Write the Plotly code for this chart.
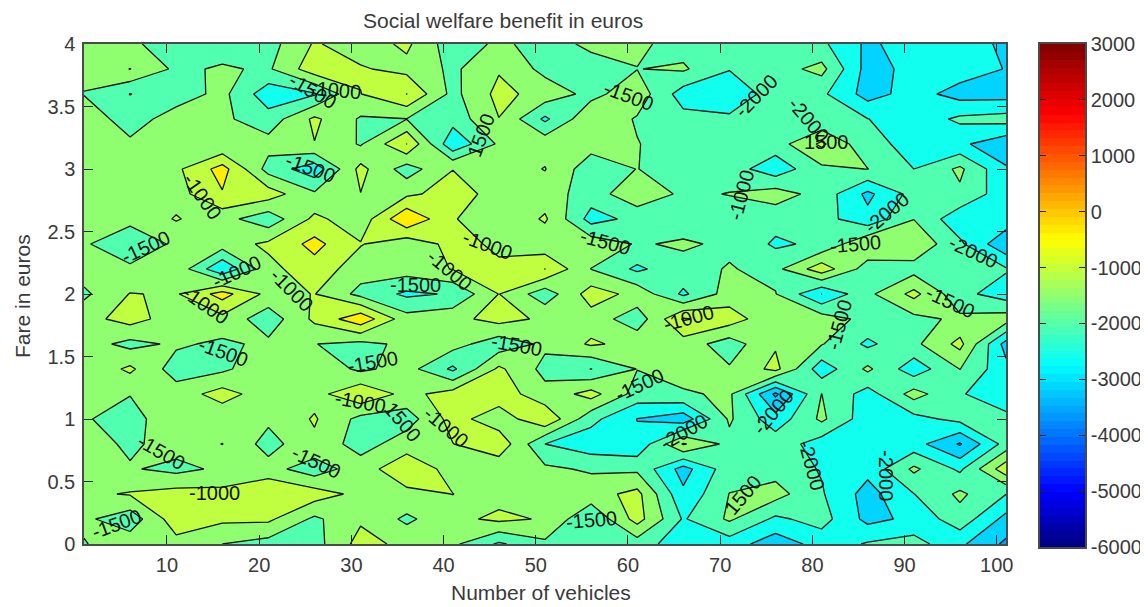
import plotly.graph_objects as go

vehicles = [1, 6, 11, 16, 21, 26, 31, 36, 41, 46, 51, 56, 61, 66, 71, 76, 81, 86, 91, 96, 101]
fares = [0, 0.2, 0.4, 0.6, 0.8, 1.0, 1.2, 1.4, 1.6, 1.8, 2.0, 2.2, 2.4, 2.6, 2.8, 3.0, 3.2, 3.4, 3.6, 3.8, 4.0]

# welfare per fare row, one value per vehicle count
fare_00 = [-1530, -1200, -1170, -1500, -1700, -1700, -800, -1150, -1400, -2080, -1600, -1800, -1750, -2300, -2250, -2800, -2300, -1950, -1787, -2400, -3100]
fare_02 = [-1400, -1800, -700, -900, -900, -1600, -1080, -1600, -1150, -880, -1050, -1950, -800, -2050, -1420, -2100, -1800, -2650, -2380, -1690, -2660]
fare_04 = [-1100, -960, -800, -850, -520, -750, -1147, -1111, -995, -1200, -1200, -1200, -850, -2400, -1490, -1300, -1950, -2700, -2010, -1400, -1990]
fare_06 = [-1250, -1450, -1650, -1400, -1300, -1800, -1200, -700, -1160, -1350, -1400, -1570, -1600, -2700, -1700, -1700, -2040, -2350, -1400, -2100, -677]
fare_08 = [-1250, -1600, -1270, -990, -1700, -1100, -1750, -1200, -1010, -650, -2000, -2300, -2400, -950, -1650, -1700, -2250, -2300, -2300, -3050, -1800]
fare_10 = [-1450, -1720, -1100, -1340, -1400, -950, -1650, -1750, -800, -1300, -570, -1850, -2510, -2800, -1430, -2300, -1400, -2300, -2170, -1850, -1850]
fare_12 = [-1250, -1480, -1250, -800, -1265, -1170, -600, -1155, -780, -700, -1338, -800, -1700, -1570, -1410, -3100, -1495, -2220, -1300, -1950, -2350]
fare_14 = [-1400, -900, -1753, -1600, -1150, -1150, -1600, -1300, -2100, -900, -1650, -2010, -1490, -1250, -1450, -850, -2300, -1400, -2300, -1490, -2350]
fare_16 = [-1275, -1650, -1420, -1600, -1390, -1490, -1640, -1395, -1300, -1800, -1400, -935, -1150, -1235, -1750, -1060, -1467, -2100, -1624, -850, -2700]
fare_18 = [-1180, -800, -1250, -1150, -1800, -890, -150, -1300, -1150, -820, -1090, -1218, -1800, -450, -750, -1375, -1243, -1650, -1650, -1400, -1250]
fare_20 = [-1600, -980, -1050, -300, -1150, -985, -1650, -2100, -1950, -990, -1800, -760, -1160, -2100, -1270, -1480, -2505, -1620, -850, -1850, -2250]
fare_22 = [-1250, -1420, -1150, -2450, -1150, -700, -1280, -1250, -980, -926, -495, -1510, -2100, -1650, -1470, -1640, -700, -1750, -1700, -1800, -1950]
fare_24 = [-1450, -1800, -1420, -1250, -900, -350, -970, -1317, -850, -1080, -1351, -1200, -1540, -1440, -1580, -2080, -1900, -1050, -1100, -1900, -2900]
fare_26 = [-1250, -1380, -960, -1320, -1820, -880, -1300, -50, -950, -1450, -930, -2200, -1850, -1740, -1800, -1814, -1800, -2350, -1510, -2350, -2200]
fare_28 = [-1250, -1300, -1200, -540, -750, -1420, -1010, -1100, -800, -1170, -1250, -1750, -1140, -1600, -1480, -1270, -1690, -2620, -1815, -1590, -2300]
fare_30 = [-1250, -1300, -1105, -300, -1700, -2300, -850, -1750, -1010, -1250, -980, -1800, -1490, -1750, -1765, -2300, -1620, -1490, -2000, -1400, -2440]
fare_32 = [-1250, -1410, -1250, -1450, -1315, -1015, -1550, -495, -2400, -1420, -1180, -1300, -1480, -1750, -1750, -1750, -900, -1900, -2100, -2400, -2850]
fare_34 = [-1200, -1735, -1265, -1400, -1790, -900, -1560, -1510, -1800, -1010, -2100, -1100, -1550, -1830, -1920, -1700, -1980, -1990, -2300, -1900, -1800]
fare_36 = [-1520, -2010, -1750, -1360, -2300, -2050, -1010, -495, -1650, -850, -1200, -1650, -1200, -2250, -2300, -1800, -1900, -2700, -2300, -2700, -2700]
fare_38 = [-1350, -990, -1600, -1440, -1570, -700, -950, -1150, -1600, -1050, -1650, -1700, -1510, -1430, -1980, -1700, -1350, -2700, -2350, -2250, -2520]
fare_40 = [-1300, -1420, -1720, -1750, -1700, -950, -1250, -900, -1800, -1400, -1700, -1400, -1400, -1700, -1700, -1750, -1900, -2600, -2250, -2250, -2600]

welfare = [fare_00, fare_02, fare_04, fare_06, fare_08, fare_10, fare_12, fare_14, fare_16, fare_18, fare_20,
           fare_22, fare_24, fare_26, fare_28, fare_30, fare_32, fare_34, fare_36, fare_38, fare_40]

# contour labels as they sit on the original figure
label_text = ['-1500', '-1000', '-1500', '-2000', '-2000', '1500', '1500', '-1500', '-1000', '-1000', '-2000',
              '-1000', '-1500', '-1500', '-2000', '-1500', '-1000', '-1000', '-1000', '-1500', '-1000', '-1000',
              '-1500', '-1500', '-1500', '-1500', '-1500', '-1500', '-1000', '1500', '-1000', '-2000', '-2000',
              '-1500', '-1500', '-2000', '-2000', '-1000', '-1500', '-1500', '1500']
label_x = [25.8, 28.3, 60.1, 73.9, 79.6, 81.5, 44.1, 25.6, 13.9, 72.3, 88, 44.8, 57.6, 84.7, 97.5, 7.7, 17.5, 23.5, 40.6,
           37, 14.2, 66.6, 95, 82.9, 47.9, 16.1, 32.3, 61.2, 31, 35.6, 40.3, 66, 75.7, 9.4, 26.2, 79.9, 88, 15.2, 4.5, 56, 72.5]
label_y = [3.62, 3.63, 3.58, 3.58, 3.39, 3.22, 3.27, 3.01, 2.78, 2.79, 2.65, 2.39, 2.42, 2.40, 2.34, 2.38, 2.18, 2.03, 2.19,
           2.07, 1.91, 1.81, 1.94, 1.75, 1.59, 1.54, 1.46, 1.27, 1.14, 0.98, 0.94, 0.90, 1.06, 0.74, 0.66, 0.63, 0.55, 0.41, 0.16, 0.19, 0.39]
label_angle = [30, 5, 20, -45, 50, 0, -70, 20, 55, -75, -40, 20, 15, -5, 25, -25, -25, 45, 40,
               0, 35, -15, 25, -75, 10, 20, -10, -25, 10, 50, 40, -30, -50, 30, 25, 75, 90, 0, -20, -5, -50]

band_colors = ['#0070ff', '#00a0ff', '#00d4ff', '#10ffef', '#50ffaf', '#8fff70', '#bfff40', '#ffee00']
jet = [[0, '#00007f'], [0.11, '#0000ff'], [0.36, '#00ffff'], [0.61, '#ffff00'], [0.86, '#ff0000'], [1, '#7f0000']]

cbar_ticks = [-6000, -5000, -4000, -3000, -2000, -1000, 0, 1000, 2000, 3000]
cbar_levels = [-6000 + (i + 0.5) * 9000 / 64 for i in range(64)]

font = 'Liberation Sans'
text_color = '#3a3a3a'
frame_color = '#4a4a4a'

# the page body has an 8px margin, the figure fills what is left of the window
W, H = 1140, 599


def px_x(px):
    return (px - 8) / W


def px_y(py):
    return 1 - (py - 8) / H


fig = go.Figure()

fig.add_trace(go.Contour(x=vehicles, y=fares, z=welfare,
                         autocontour=False,
                         contours=dict(start=-3500, end=-500, size=500, coloring='fill'),
                         colorscale=[[i / 7, c] for i, c in enumerate(band_colors)],
                         line=dict(color='#111111', width=1.3, smoothing=0),
                         showscale=False, hoverinfo='skip'))

fig.add_trace(go.Heatmap(x=[0, 1], y=cbar_levels, z=[[v, v] for v in cbar_levels],
                         xaxis='x2', yaxis='y2', colorscale=jet, zmin=-6000, zmax=3000,
                         showscale=False, hoverinfo='skip'))

for t, x, y, a in zip(label_text, label_x, label_y, label_angle):
    fig.add_annotation(x=x, y=y, text=t, textangle=a, showarrow=False,
                       font=dict(family=font, size=20, color='#111111'))

titles = [('Social welfare benefit in euros', 503, 20, 0),
          ('Number of vehicles', 541, 592, 0),
          ('Fare in euros', 22, 296, -90)]
for text, tx, ty, angle in titles:
    fig.add_annotation(text=text, xref='paper', yref='paper', x=px_x(tx), y=px_y(ty), xanchor='center', yanchor='middle',
                       textangle=angle, showarrow=False, font=dict(family=font, size=21, color=text_color))

axis_style = dict(showgrid=False, zeroline=False, showline=True, linecolor=frame_color, linewidth=1.5,
                  mirror='ticks', ticks='inside', tickcolor='#222222', automargin=False,
                  tickfont=dict(family=font, size=20, color=text_color))

fig.update_layout(width=W, height=H,
                  margin=dict(l=0, r=0, t=0, b=0),
                  paper_bgcolor='white', plot_bgcolor='white',
                  showlegend=False,
                  xaxis=dict(domain=[px_x(84), px_x(1006)], range=[1, 101], tickvals=list(range(10, 101, 10)),
                             ticklen=9, ticklabelstandoff=2, **axis_style),
                  yaxis=dict(domain=[px_y(544), px_y(44)], range=[0, 4], tickvals=[0, 0.5, 1, 1.5, 2, 2.5, 3, 3.5, 4],
                             ticktext=['0', '0.5', '1', '1.5', '2', '2.5', '3', '3.5', '4'],
                             ticklen=9, ticklabelstandoff=3, **axis_style),
                  xaxis2=dict(domain=[px_x(1040), px_x(1085)], range=[0, 1], anchor='y2', showticklabels=False, ticks='',
                              showgrid=False, zeroline=False, showline=True, linecolor=frame_color, linewidth=1.5, mirror=True,
                              automargin=False),
                  yaxis2=dict(domain=[px_y(547), px_y(44)], range=[-6000, 3000], anchor='x2', side='right',
                              tickvals=cbar_ticks, ticktext=[str(v) for v in cbar_ticks],
                              ticklen=6, **axis_style))

fig.write_html("out.html")
